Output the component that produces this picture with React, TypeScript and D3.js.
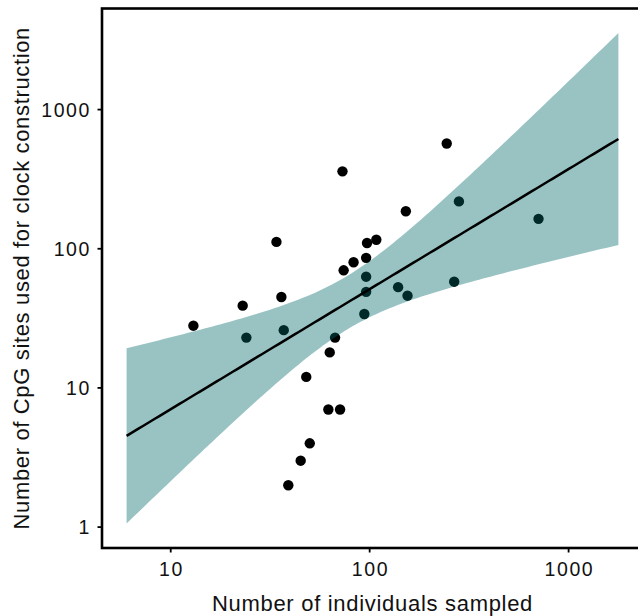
import React from "react";
import * as d3 from "d3";

// Number of individuals sampled (x) and CpG sites used for clock construction (y)
const individuals = [13, 23, 24, 34, 36, 37, 73, 48, 63, 67, 62, 71, 39, 45, 50, 74, 83, 96, 97, 108, 96, 96, 94, 139, 155, 152, 244, 281, 706, 266];
const cpgSites = [28, 39, 23, 112, 45, 26, 360, 12, 18, 23, 7, 7, 2, 3, 4, 70, 80, 86, 110, 116, 63, 49, 34, 53, 46, 186, 571, 219, 164, 58];

const xTicks = [10, 100, 1000];
const yTicks = [1, 10, 100, 1000];
const fitRange = [6, 1780];

const xTitle = "Number of individuals sampled";
const yTitle = "Number of CpG sites used for clock construction";

const W = 638;
const H = 616;
const left = 102;
const right = 643;
const top = 8.5;
const bottom = 548;
const FONT = "'Liberation Sans', Arial, Helvetica, sans-serif";
const T975 = 2.048; // t quantile, df = n - 2 = 28

function expandLog(lo: number, hi: number, f = 0.05) {
  const a = Math.log10(lo), b = Math.log10(hi);
  const e = (b - a) * f;
  return [Math.pow(10, a - e), Math.pow(10, b + e)];
}

export default function App() {
  // linear model in log-log space
  const lx = individuals.map((v) => Math.log10(v));
  const ly = cpgSites.map((v) => Math.log10(v));
  const n = lx.length;
  const mx = d3.mean(lx)!;
  const my = d3.mean(ly)!;
  let sxx = 0, sxy = 0;
  for (let i = 0; i < n; i++) {
    sxx += (lx[i] - mx) ** 2;
    sxy += (lx[i] - mx) * (ly[i] - my);
  }
  const slope = sxy / sxx;
  const intercept = my - slope * mx;
  let sse = 0;
  for (let i = 0; i < n; i++) sse += (ly[i] - (intercept + slope * lx[i])) ** 2;
  const s = Math.sqrt(sse / (n - 2));

  const lo = Math.log10(fitRange[0]);
  const hi = Math.log10(fitRange[1]);
  const steps = 120;
  const fit = d3.range(steps + 1).map((i) => {
    const l = lo + ((hi - lo) * i) / steps;
    const f = intercept + slope * l;
    const hw = T975 * s * Math.sqrt(1 / n + (l - mx) ** 2 / sxx);
    return { x: Math.pow(10, l), y: Math.pow(10, f), ymin: Math.pow(10, f - hw), ymax: Math.pow(10, f + hw) };
  });

  const yMin = Math.min(d3.min(fit, (d) => d.ymin)!, d3.min(cpgSites)!);
  const yMax = Math.max(d3.max(fit, (d) => d.ymax)!, d3.max(cpgSites)!);

  const x = d3.scaleLog().domain(expandLog(fitRange[0], fitRange[1])).range([left, right]);
  const y = d3.scaleLog().domain(expandLog(yMin, yMax)).range([bottom, top]);

  const area = d3
    .area<any>()
    .x((d) => x(d.x))
    .y0((d) => y(d.ymin))
    .y1((d) => y(d.ymax));
  const line = d3
    .line<any>()
    .x((d) => x(d.x))
    .y((d) => y(d.y));

  return (
    <svg width={W} height={H} style={{ position: "absolute", left: 0, top: 0, background: "#fff" }}>
      <defs>
        <clipPath id="panel">
          <rect x={left} y={top} width={right - left} height={bottom - top} />
        </clipPath>
      </defs>
      <g clipPath="url(#panel)">
        {individuals.map((v, i) => (
          <circle key={i} cx={x(v)} cy={y(cpgSites[i])} r={5.2} fill="#000" />
        ))}
        <path d={area(fit)!} fill="rgb(0,105,105)" fillOpacity={0.4} stroke="none" />
        <path d={line(fit)!} fill="none" stroke="#000" strokeWidth={2.5} />
      </g>
      <rect x={left} y={top} width={right - left} height={bottom - top} fill="none" stroke="#000" strokeWidth={2.6} />
      {yTicks.map((t) => (
        <g key={"y" + t}>
          <line x1={left - 4.5} x2={left} y1={y(t)} y2={y(t)} stroke="#000" strokeWidth={1.8} />
          <text
            x={91}
            y={y(t) + 7}
            textAnchor="end"
            fontFamily={FONT}
            fontSize={19.5}
            letterSpacing={1.6}
            fill="#111"
          >
            {t}
          </text>
        </g>
      ))}
      {xTicks.map((t) => (
        <g key={"x" + t}>
          <line x1={x(t)} x2={x(t)} y1={bottom} y2={bottom + 4.5} stroke="#000" strokeWidth={1.8} />
          <text x={x(t) + 0.8} y={576} textAnchor="middle" fontFamily={FONT} fontSize={19.5} letterSpacing={1.6} fill="#111">
            {t}
          </text>
        </g>
      ))}
      <text x={(left + right) / 2} y={611} textAnchor="middle" fontFamily={FONT} fontSize={22} letterSpacing={0.7} fill="#111">
        {xTitle}
      </text>
      <text
        transform={`translate(28.5, ${(top + bottom) / 2}) rotate(-90)`}
        textAnchor="middle"
        fontFamily={FONT}
        fontSize={22}
        letterSpacing={0.65}
        fill="#111"
      >
        {yTitle}
      </text>
    </svg>
  );
}
